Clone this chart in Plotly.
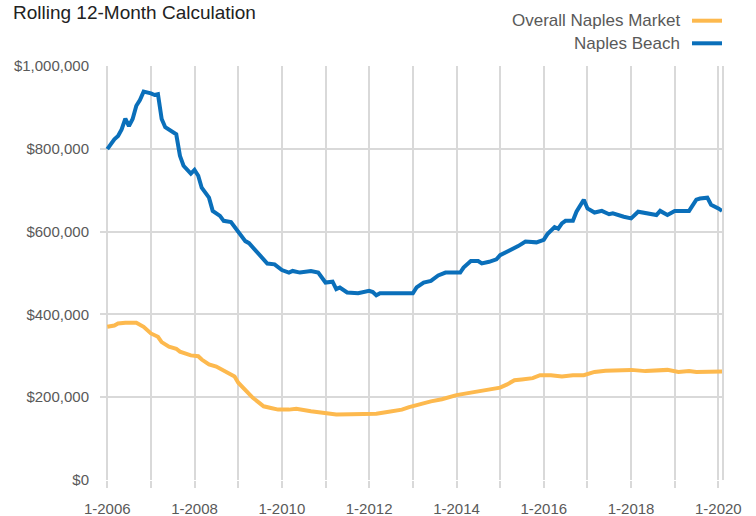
import plotly.graph_objects as go

# Rolling 12-month median sale price, Naples Beach vs. overall Naples market
beach_dates = [
    "2006-01", "2006-03", "2006-04", "2006-05", "2006-06", "2006-07", "2006-08", "2006-09",
    "2006-10", "2006-11", "2007-01", "2007-02", "2007-03", "2007-04", "2007-05", "2007-06",
    "2007-08", "2007-09", "2007-10", "2007-12", "2008-01", "2008-02", "2008-03", "2008-05",
    "2008-06", "2008-08", "2008-09", "2008-11", "2009-01", "2009-03", "2009-04", "2009-06",
    "2009-07", "2009-09", "2009-11", "2010-01", "2010-03", "2010-04", "2010-06", "2010-09",
    "2010-11", "2011-01", "2011-03", "2011-04", "2011-05", "2011-07", "2011-10", "2012-01",
    "2012-02", "2012-03", "2012-04", "2013-01", "2013-02", "2013-04", "2013-06", "2013-08",
    "2013-10", "2014-02", "2014-03", "2014-05", "2014-07", "2014-08", "2014-10", "2014-12",
    "2015-01", "2015-03", "2015-04", "2015-06", "2015-08", "2015-10", "2015-11", "2016-01",
    "2016-02", "2016-04", "2016-05", "2016-06", "2016-07", "2016-09", "2016-10", "2016-12",
    "2017-01", "2017-03", "2017-05", "2017-07", "2017-08", "2017-11", "2018-01", "2018-03",
    "2018-05", "2018-07", "2018-08", "2018-09", "2018-11", "2019-01", "2019-05", "2019-07",
    "2019-08", "2019-10", "2019-11", "2020-01", "2020-02",
]
beach_values = [
    799, 823, 831, 847, 873, 855, 872, 904,
    918, 938, 934, 930, 932, 872, 852, 846,
    835, 783, 759, 740, 749, 735, 706, 682,
    650, 638, 626, 623, 599, 577, 572, 553,
    545, 523, 521, 507, 501, 505, 501, 505,
    501, 477, 479, 461, 465, 453, 451, 457,
    454, 446, 451, 451, 465, 477, 481, 494,
    501, 501, 513, 529, 529, 523, 527, 533,
    543, 551, 557, 565, 576, 576, 574, 580,
    594, 611, 607, 620, 626, 626, 648, 677,
    656, 646, 650, 642, 644, 636, 632, 648,
    644, 640, 640, 650, 640, 650, 650, 677,
    680, 682, 665, 656, 650,
]

market_dates = [
    "2006-01", "2006-03", "2006-04", "2006-06", "2006-09", "2006-11", "2007-01", "2007-03",
    "2007-04", "2007-06", "2007-08", "2007-09", "2007-12", "2008-02", "2008-03", "2008-05",
    "2008-07", "2008-09", "2008-10", "2008-12", "2009-01", "2009-03", "2009-05", "2009-07",
    "2009-08", "2009-10", "2009-12", "2010-03", "2010-05", "2010-09", "2011-01", "2011-04",
    "2011-08", "2011-12", "2012-03", "2012-06", "2012-08", "2012-10", "2012-12", "2013-03",
    "2013-06", "2013-09", "2013-11", "2014-01", "2014-05", "2014-08", "2014-11", "2015-01",
    "2015-03", "2015-05", "2015-07", "2015-10", "2015-12", "2016-03", "2016-06", "2016-09",
    "2016-12", "2017-03", "2017-06", "2017-10", "2018-01", "2018-05", "2018-08", "2018-11",
    "2019-02", "2019-05", "2019-07", "2019-11", "2020-02",
]
market_values = [
    370, 373, 378, 380, 380, 370, 354, 346,
    333, 322, 317, 310, 301, 299, 291, 279,
    274, 265, 258, 250, 235, 217, 199, 185,
    178, 174, 170, 170, 172, 166, 162, 158,
    159, 159, 160, 164, 166, 170, 176, 184,
    190, 195, 201, 205, 211, 215, 218, 223,
    231, 241, 243, 246, 253, 253, 250, 253,
    253, 261, 264, 265, 266, 263, 264, 266,
    261, 263, 261, 261, 262,
]

series_names = ["Overall Naples Market", "Naples Beach"]
series_colors = ["#fdb94e", "#0a6fba"]

tick_years = list(range(2006, 2021))
tick_labels = [f"1-{y}" if y % 2 == 0 else "" for y in tick_years]

FONT = "Liberation Sans, Arial, sans-serif"
GRID = "#d9d9d9"
TEXT = "#595959"

fig = go.Figure()
fig.add_trace(go.Scatter(
    x=market_dates, y=[v * 1000 for v in market_values], mode="lines",
    name=series_names[0], line=dict(color=series_colors[0], width=4),
))
fig.add_trace(go.Scatter(
    x=beach_dates, y=[v * 1000 for v in beach_values], mode="lines",
    name=series_names[1], line=dict(color=series_colors[1], width=4),
))

W, H = 756, 516
ML, MR, MT, MB = 100, 33, 66, 36
pw, ph = W - ML - MR, H - MT - MB


def px_x(x):
    return (x - ML) / pw


def px_y(y):
    return (H - MB - y) / ph


# Chart heading
annotations = [dict(
    xref="paper", yref="paper", x=px_x(11), y=px_y(12.5),
    xanchor="left", yanchor="middle", showarrow=False,
    text="Rolling 12-Month Calculation",
    font=dict(family=FONT, size=19, color="#222222"),
)]
shapes = []

# Legend drawn by hand: label text on the left, line sample on the right
for i, (name, color) in enumerate(zip(series_names, series_colors)):
    yc = 20.7 + i * 22.6
    annotations.append(dict(
        xref="paper", yref="paper", x=px_x(682), y=px_y(yc),
        xanchor="right", yanchor="middle", showarrow=False, text=name,
        font=dict(family=FONT, size=17, color=TEXT),
    ))
    shapes.append(dict(
        type="line", xref="paper", yref="paper",
        x0=px_x(692), x1=px_x(722), y0=px_y(yc), y1=px_y(yc),
        line=dict(color=color, width=4),
    ))

# Right-hand border of the plotting area
shapes.append(dict(type="line", xref="paper", yref="paper", x0=1, x1=1, y0=0, y1=1,
                   line=dict(color=GRID, width=2)))

fig.update_layout(
    width=W, height=H,
    margin=dict(l=ML, r=MR, t=MT, b=MB, pad=0, autoexpand=False),
    paper_bgcolor="white", plot_bgcolor="white",
    showlegend=False,
    annotations=annotations,
    shapes=shapes,
    xaxis=dict(
        type="date", range=["2005-11-01", "2020-02-09"], automargin=False,
        tickvals=[f"{y}-01-01" for y in tick_years], ticktext=tick_labels,
        showgrid=True, gridcolor=GRID, gridwidth=2,
        ticks="outside", ticklen=7, tickwidth=2, tickcolor=GRID,
        showline=False, zeroline=False, ticklabelstandoff=8,
        tickfont=dict(family=FONT, size=15, color=TEXT),
    ),
    yaxis=dict(
        range=[0, 1000000], dtick=200000, tickprefix="$", tickformat=",",
        automargin=False,
        showgrid=True, gridcolor=GRID, gridwidth=2,
        ticks="", showline=False, zeroline=False, ticklabelstandoff=10,
        tickfont=dict(family=FONT, size=15, color=TEXT),
    ),
)

fig.write_html("out.html")
